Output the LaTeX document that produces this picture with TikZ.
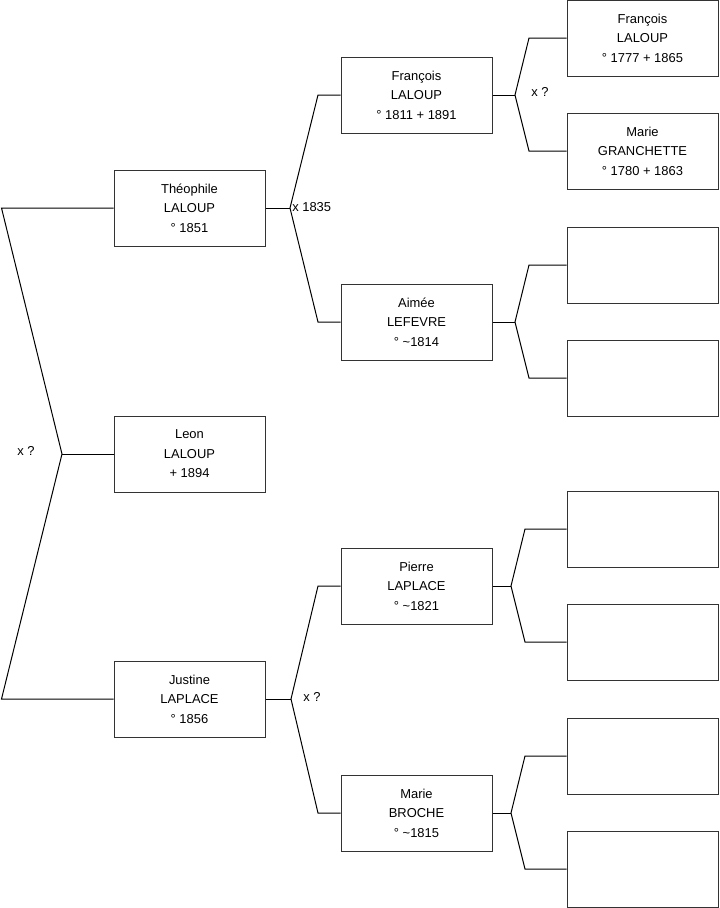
\documentclass[tikz,border=0pt]{standalone}
\usepackage{fontspec}
\setmainfont{Liberation Sans}
\begin{document}
\begin{tikzpicture}[x=0.75pt,y=-0.75pt,
  box/.style={draw=black!80,line width=0.75pt,minimum width=113.25pt,minimum height=57pt,inner sep=0pt,align=center,font=\fontsize{9.7}{14.6}\selectfont},
  conn/.style={draw=black,line width=0.75pt},
  lbl/.style={inner sep=0pt,font=\fontsize{9.7}{11}\selectfont}]
\useasboundingbox (0,0) rectangle (719,908);
% column 1
\node[box] (t) at (189.5,208) {Théophile\\LALOUP\\° 1851};
\node[box] (l) at (189.5,454) {Leon\\LALOUP\\+ 1894};
\node[box] (j) at (189.5,699) {Justine\\LAPLACE\\° 1856};
% column 2
\node[box] (f) at (416.5,95) {François\\LALOUP\\° 1811 + 1891};
\node[box] (a) at (416.5,322) {Aimée\\LEFEVRE\\° \textasciitilde1814};
\node[box] (p) at (416.5,586) {Pierre\\LAPLACE\\° \textasciitilde1821};
\node[box] (m) at (416.5,813) {Marie\\BROCHE\\° \textasciitilde1815};
% column 3
\node[box] (ff) at (642.5,38) {François\\LALOUP\\° 1777 + 1865};
\node[box] (fm) at (642.5,151) {Marie\\GRANCHETTE\\° 1780 + 1863};
\node[box] (af) at (642.5,265) {};
\node[box] (am) at (642.5,378) {};
\node[box] (pf) at (642.5,529) {};
\node[box] (pm) at (642.5,642) {};
\node[box] (mf) at (642.5,756) {};
\node[box] (mm) at (642.5,869) {};
% leftmost fork
\coordinate (L0) at (1.5,208);
\coordinate (L1) at (1.5,699);
\coordinate (p0) at (62,454);
\draw[conn] (t.west) -- (L0) -- (p0) -- (L1) -- (j.west);
\draw[conn] (p0) -- (l.west);
\node[lbl] (x0) at (26,451) {x ?};
% Theophile fork
\coordinate (p1) at (290,208);
\coordinate (a1) at (318,95);
\coordinate (b1) at (318,322);
\draw[conn] (t.east) -- (p1);
\draw[conn] (f.west) -- (a1) -- (p1) -- (b1) -- (a.west);
\node[lbl,anchor=west] (x1) at (292,207) {x 1835};
% Justine fork
\coordinate (p2) at (291,699);
\coordinate (a2) at (318,586);
\coordinate (b2) at (318,813);
\draw[conn] (j.east) -- (p2);
\draw[conn] (p.west) -- (a2) -- (p2) -- (b2) -- (m.west);
\node[lbl] (x2) at (312,697) {x ?};
% Francois fork
\coordinate (p3) at (515,95);
\coordinate (a3) at (529,38);
\coordinate (b3) at (529,151);
\draw[conn] (f.east) -- (p3);
\draw[conn] (ff.west) -- (a3) -- (p3) -- (b3) -- (fm.west);
\node[lbl] (x3) at (540,92) {x ?};
% Aimee fork
\coordinate (p4) at (515,322);
\coordinate (a4) at (529,265);
\coordinate (b4) at (529,378);
\draw[conn] (a.east) -- (p4);
\draw[conn] (af.west) -- (a4) -- (p4) -- (b4) -- (am.west);
% Pierre fork
\coordinate (p5) at (511,586);
\coordinate (a5) at (525,529);
\coordinate (b5) at (525,642);
\draw[conn] (p.east) -- (p5);
\draw[conn] (pf.west) -- (a5) -- (p5) -- (b5) -- (pm.west);
% Marie fork
\coordinate (p6) at (511,813);
\coordinate (a6) at (525,756);
\coordinate (b6) at (525,869);
\draw[conn] (m.east) -- (p6);
\draw[conn] (mf.west) -- (a6) -- (p6) -- (b6) -- (mm.west);
\end{tikzpicture}
\end{document}
